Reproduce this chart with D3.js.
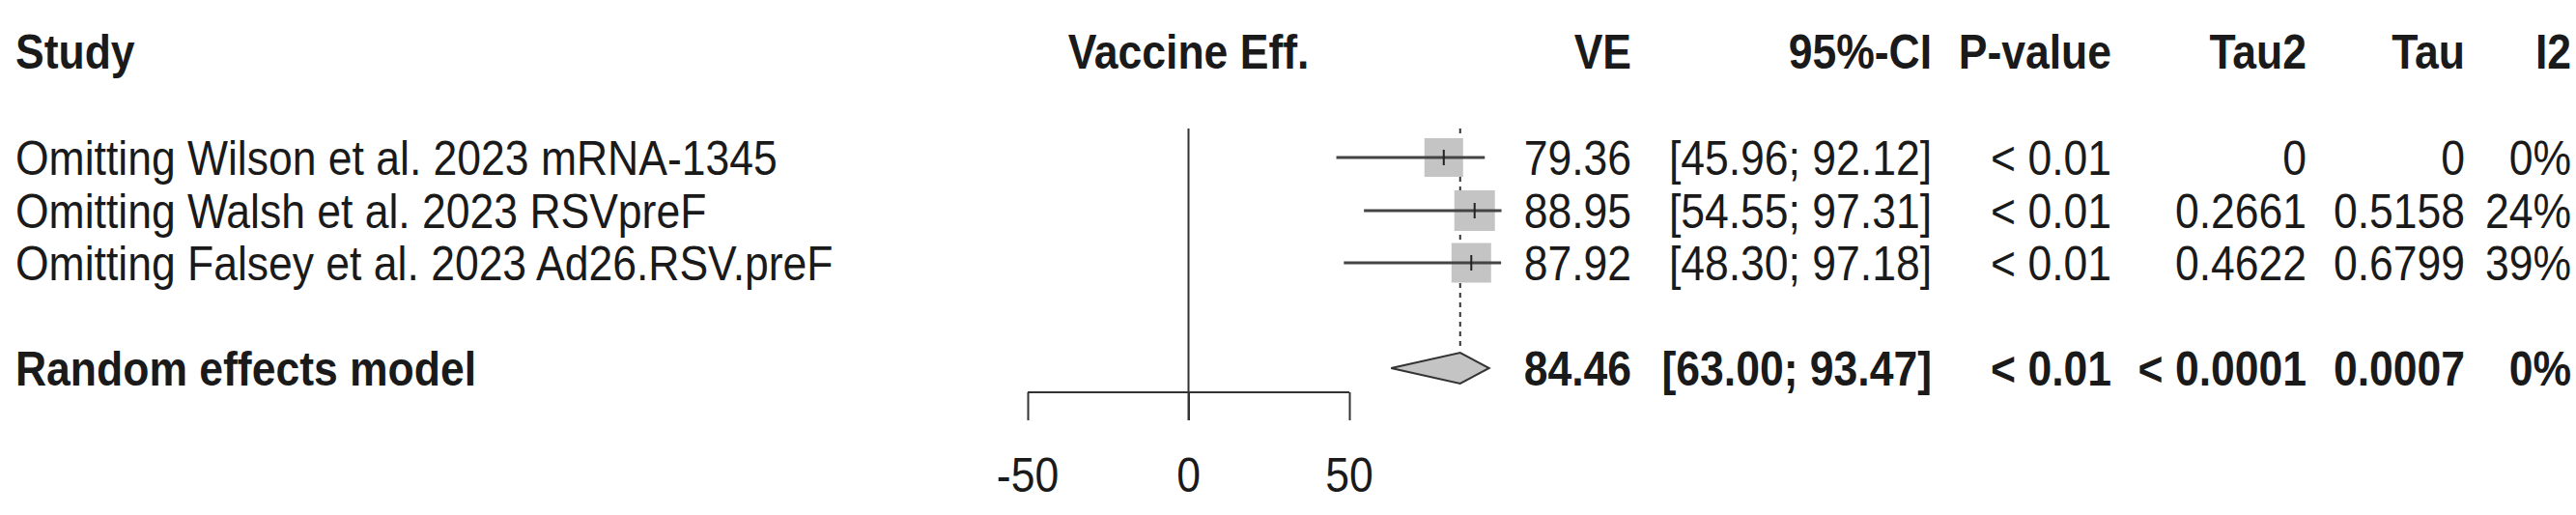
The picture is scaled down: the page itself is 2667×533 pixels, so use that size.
<!DOCTYPE html>
<html>
<head>
<meta charset="utf-8">
<script src="https://cdn.jsdelivr.net/npm/d3@7"></script>
<style>
  body { margin: 0; background: #fff; }
  text { font-family: "Liberation Sans", Arial, sans-serif; fill: #1a1a1a; }
</style>
</head>
<body>
<svg id="chart" width="2667" height="533"></svg>
<script>
var studies = ['Omitting Wilson et al. 2023 mRNA-1345',
               'Omitting Walsh et al. 2023 RSVpreF',
               'Omitting Falsey et al. 2023 Ad26.RSV.preF'];
var ve = [79.36, 88.95, 87.92];
var lower = [45.96, 54.55, 48.30];
var upper = [92.12, 97.31, 97.18];
var boxSize = [40, 42, 41];
var pval = ['< 0.01', '< 0.01', '< 0.01'];
var tau2 = ['0', '0.2661', '0.4622'];
var tau = ['0', '0.5158', '0.6799'];
var i2 = ['0%', '24%', '39%'];

var pooled = {label: 'Random effects model', ve: 84.46, lo: 63.00, hi: 93.47,
              p: '< 0.01', tau2: '< 0.0001', tau: '0.0007', i2: '0%'};
var ticks = [-50, 0, 50];

var svg = d3.select('#chart');
var x = d3.scaleLinear().domain([-50, 50]).range([1064, 1397]);
var rowY = [163, 218, 272];
var poolY = 381;
var fs = 50;
var sx = 0.89;

function fmtVE(v) { return v.toFixed(2); }
function fmtCI(a, b) { return '[' + a.toFixed(2) + '; ' + b.toFixed(2) + ']'; }

// condensed text helper
function label(px, py, str, anchor, bold) {
    return svg.append('text')
        .attr('transform', 'translate(' + px + ',' + py + ') scale(' + sx + ',1)')
        .attr('font-size', fs)
        .attr('font-weight', bold ? 'bold' : 'normal')
        .attr('text-anchor', anchor || 'start')
        .text(str);
}

var cols = [
    {h: 'VE', x: 1689},
    {h: '95%-CI', x: 2000},
    {h: 'P-value', x: 2186},
    {h: 'Tau2', x: 2388},
    {h: 'Tau', x: 2552},
    {h: 'I2', x: 2662}
];

// headers
label(16, 71, 'Study', 'start', true);
label(x(0), 71, 'Vaccine Eff.', 'middle', true);
cols.forEach(function(c) { label(c.x, 71, c.h, 'end', true); });

// reference line at 0
svg.append('line').attr('x1', x(0)).attr('x2', x(0))
    .attr('y1', 133).attr('y2', 435).attr('stroke', '#333').attr('stroke-width', 2);

// pooled dashed line
svg.append('line').attr('x1', x(pooled.ve)).attr('x2', x(pooled.ve))
    .attr('y1', 133).attr('y2', poolY - 18).attr('stroke', '#333')
    .attr('stroke-width', 2).attr('stroke-dasharray', '5,5');

// study rows
studies.forEach(function(s, i) {
    var y = rowY[i];
    var b = boxSize[i];
    svg.append('rect').attr('x', x(ve[i]) - b / 2).attr('y', y - b / 2)
        .attr('width', b).attr('height', b).attr('fill', '#c4c4c4');
    svg.append('line').attr('x1', x(lower[i])).attr('x2', x(upper[i]))
        .attr('y1', y).attr('y2', y).attr('stroke', '#444').attr('stroke-width', 3);
    svg.append('line').attr('x1', x(ve[i])).attr('x2', x(ve[i]))
        .attr('y1', y - 8).attr('y2', y + 8).attr('stroke', '#222').attr('stroke-width', 2);

    var vals = [fmtVE(ve[i]), fmtCI(lower[i], upper[i]), pval[i], tau2[i], tau[i], i2[i]];
    label(16, y + 18, s);
    cols.forEach(function(c, j) { label(c.x, y + 18, vals[j], 'end'); });
});

// pooled row
var dh = 16;
svg.append('path')
    .attr('d', 'M' + x(pooled.lo) + ',' + poolY + 'L' + x(pooled.ve) + ',' + (poolY - dh) +
          'L' + x(pooled.hi) + ',' + poolY + 'L' + x(pooled.ve) + ',' + (poolY + dh) + 'Z')
    .attr('fill', '#c4c4c4').attr('stroke', '#333').attr('stroke-width', 2);
label(16, poolY + 18, pooled.label, 'start', true);
var pvals = [fmtVE(pooled.ve), fmtCI(pooled.lo, pooled.hi), pooled.p, pooled.tau2, pooled.tau, pooled.i2];
cols.forEach(function(c, j) { label(c.x, poolY + 18, pvals[j], 'end', true); });

// axis
var axis = d3.axisBottom(x).tickValues(ticks).tickSize(29).tickFormat(function() { return ''; });
var ag = svg.append('g').attr('transform', 'translate(0,406)').call(axis);
ag.select('.domain').attr('stroke', '#333').attr('stroke-width', 2)
    .attr('d', 'M' + x(-50) + ',0H' + x(50));
ag.selectAll('.tick line').attr('stroke', '#333').attr('stroke-width', 2);
ticks.forEach(function(t) { label(x(t), 509, t < 0 ? '-' + Math.abs(t) : String(t), 'middle'); });
</script>
</body>
</html>
